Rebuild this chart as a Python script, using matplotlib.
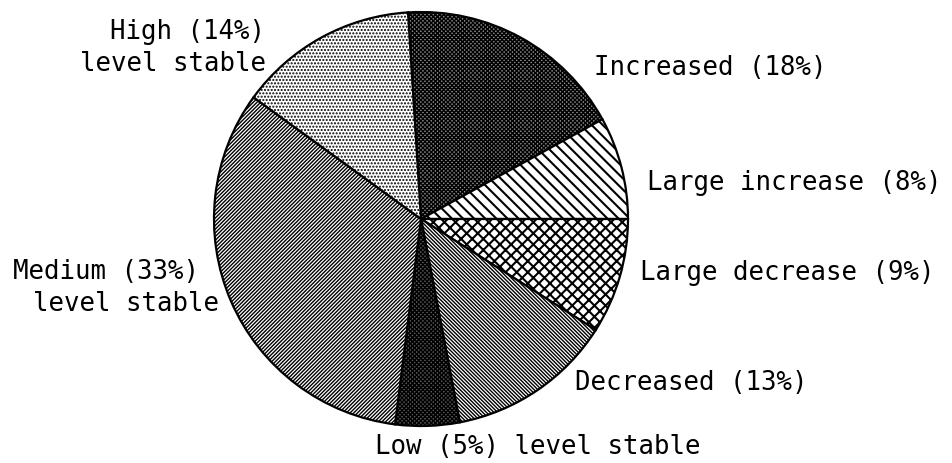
import matplotlib
matplotlib.use("Agg")
import matplotlib.pyplot as plt

# slice shares, clockwise from just left of the top
categories = ["Increased", "Large increase", "Large decrease", "Decreased",
              "Low level stable", "Medium level stable", "High level stable"]
shares = [18, 8, 9, 13, 5, 33, 14]
hatches = ["xxxxxxxx", "\\\\\\", "xxx", "\\" * 9, "xxxxxxxx", "/" * 9, "....."]
fills = ["#8a8a8a", "white", "white", "white", "#5a5a5a", "white", "white"]

# label lines (text, x px, y px from top) as they sit in the figure
label_lines = [
    ("High (14%)", 110, 32),
    ("level stable", 80, 64),
    ("Increased (18%)", 594, 68),
    ("Large increase (8%)", 647, 183),
    ("Large decrease (9%)", 640, 273),
    ("Medium (33%)", 13, 272),
    ("level stable", 33, 304),
    ("Decreased (13%)", 575, 383),
    ("Low (5%) level stable", 375, 447),
]

W, H = 952, 463
plt.rcParams["hatch.linewidth"] = 1.0
fig = plt.figure(figsize=(W / 100, H / 100), dpi=100)
ax = fig.add_axes([0, 0, 1, 1])

wedges, _ = ax.pie(shares, startangle=93.6, counterclock=False,
                   center=(421, H - 219), radius=207,
                   colors=fills,
                   wedgeprops=dict(edgecolor="black", linewidth=1.6))
for w, h in zip(wedges, hatches):
    w.set_hatch(h)
# the two wide-line patterns are drawn bolder in the original
wedges[1].set_hatch_linewidth(1.5)
wedges[2].set_hatch_linewidth(1.5)

for txt, x, y in label_lines:
    ax.text(x, H - y, txt, ha="left", va="center",
            fontsize=18.5, family="DejaVu Sans Mono", color="black")

ax.set_xlim(0, W)
ax.set_ylim(0, H)
ax.set_aspect("equal")
ax.axis("off")

fig.savefig("out.png", dpi=100, facecolor="white")
